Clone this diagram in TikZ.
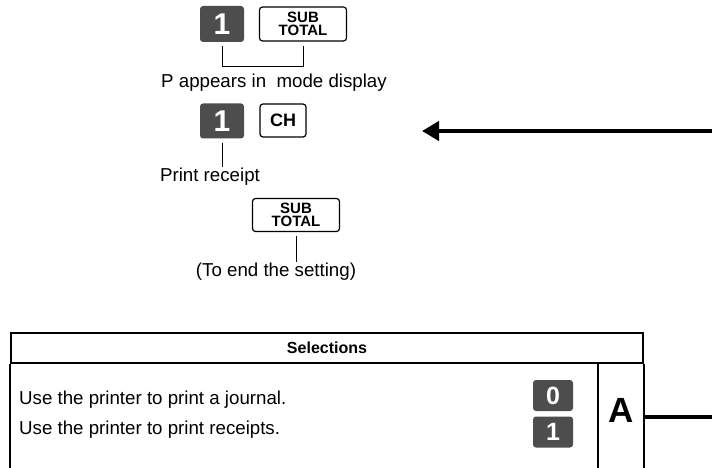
\documentclass[tikz,border=0pt]{standalone}
\usepackage{fontspec}
\setmainfont{Liberation Sans}
\usetikzlibrary{arrows.meta,positioning}
\definecolor{keygray}{HTML}{4D4D4D}
\begin{document}
\begin{tikzpicture}[x=1pt,y=-1pt,
  nk/.style={fill=keygray,text=white,rounded corners=3pt,inner sep=0pt,font=\bfseries\fontsize{30}{30}\selectfont},
  fk/.style={draw,line width=1.2pt,rounded corners=3pt,inner sep=0pt,align=center,font=\bfseries\fontsize{15}{13.5}\selectfont},
  t/.style={font=\fontsize{18.7}{20}\selectfont,inner sep=1pt},
  ld/.style={line width=0.9pt},
  rl/.style={line width=2pt}]
  \useasboundingbox (0,0) rectangle (712,468);
  % key sequence
  \node[nk,minimum width=44pt,minimum height=36pt](k1) at (222,24){1};
  \node[fk,minimum width=87pt,minimum height=34pt](st1) at (303,24){SUB\\TOTAL};
  \coordinate (br) at (0,66);
  \draw[ld,shorten <=4pt,shorten >=4pt] (k1.south) -- (k1.south |- br) -| (st1.south);
  \node[t](pm) at (274,83){P appears in\ \ mode display};
  \node[nk,minimum width=44pt,minimum height=35pt](k2) at (222,121){1};
  \node[fk,minimum width=46pt,minimum height=33pt,font=\bfseries\fontsize{18}{18}\selectfont](ch) at (283,120.5){CH};
  \node[t](pr) at (210,177){Print receipt};
  \draw[ld,shorten <=4pt] (k2.south) -- (k2.south |- pr.north);
  \node[fk,minimum width=87pt,minimum height=33pt](st2) at (296,215){SUB\\TOTAL};
  \node[t](fin) at (276,272){(To end the setting)};
  \draw[ld,shorten <=4pt] (st2.south) -- (st2.south |- fin.north);
  % arrow
  \coordinate (ar0) at (712,131); \coordinate (ar1) at (422,131);
  \draw[line width=4.5pt,-{Triangle[length=17pt,width=19pt]}] (ar0) -- (ar1);
  % table
  \node[draw,rl,minimum width=632pt,minimum height=30pt,font=\bfseries\fontsize{16}{16}\selectfont](hd) at (327,347.5){Selections};
  \coordinate (bot) at (0,472);
  \draw[rl] (hd.south west) -- (hd.south west |- bot);
  \draw[rl] (hd.south east) -- (hd.south east |- bot);
  \coordinate (sep) at (598,363);
  \draw[line width=1.5pt] (sep) -- (sep |- bot);
  \node[t,anchor=west](r0) at (18,400){Use the printer to print a journal.};
  \node[t,anchor=west](r1) at (18,430){Use the printer to print receipts.};
  \node[nk,minimum width=40pt,minimum height=31pt,font=\bfseries\fontsize{25}{25}\selectfont](k0) at (553,395.5){0};
  \node[nk,minimum width=40pt,minimum height=31pt,font=\bfseries\fontsize{25}{25}\selectfont](k3) at (553,432){1};
  \node[font=\bfseries\fontsize{35}{35}\selectfont](a) at (621,410){A};
  \coordinate (tr) at (712,417);
  \draw[line width=4pt] (hd.east |- tr) -- (tr);
\end{tikzpicture}
\end{document}
